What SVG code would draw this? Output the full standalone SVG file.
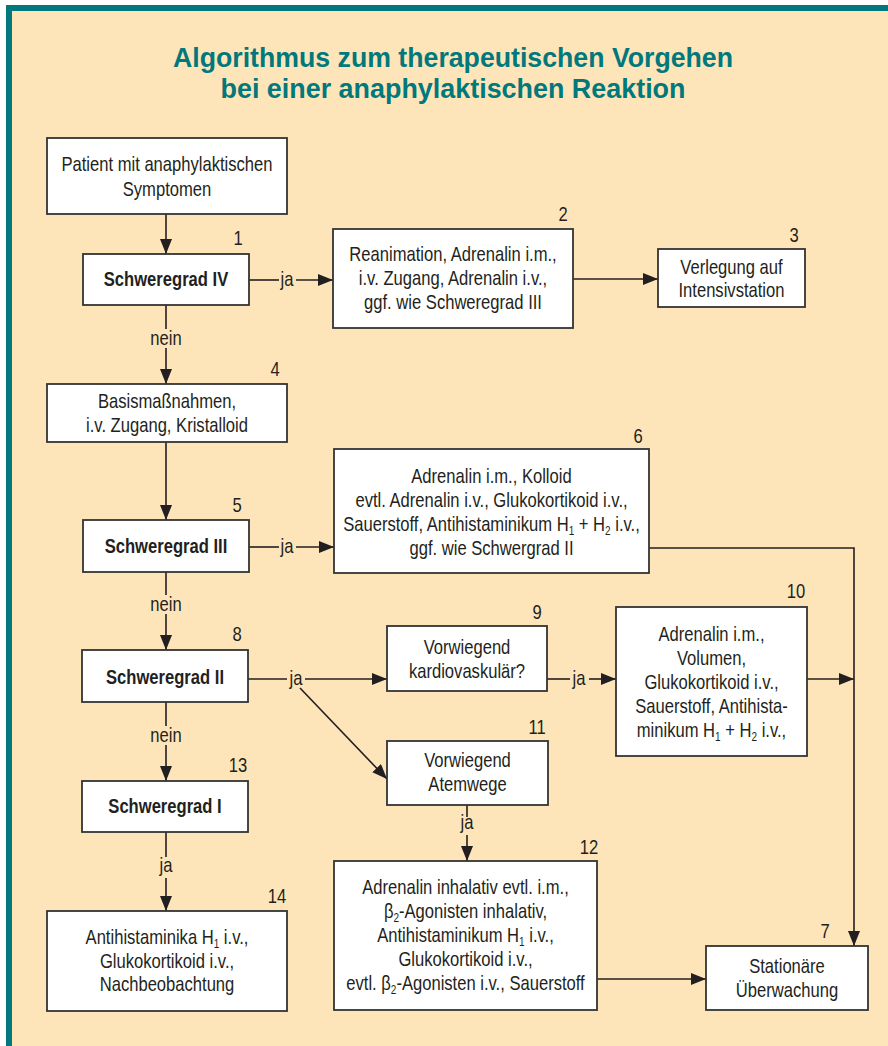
<svg xmlns="http://www.w3.org/2000/svg" width="888" height="1046" viewBox="0 0 888 1046">
<defs>
<marker id="ah" markerUnits="userSpaceOnUse" markerWidth="16" markerHeight="13" refX="15" refY="6" orient="auto">
<path d="M0,0 L15,6 L0,12 z" fill="#231f20"/>
</marker>
<style>
.box{fill:#ffffff;stroke:#333333;stroke-width:1.8}
.t{font-family:"Liberation Sans",Arial,sans-serif;font-size:20px;fill:#231f20;text-anchor:middle}
.b{font-weight:bold}
.s{font-size:12px}
.c{stroke:#231f20;stroke-width:1.6;fill:none}
.ca{stroke:#231f20;stroke-width:1.6;fill:none;marker-end:url(#ah)}
.title{font-family:"Liberation Sans",Arial,sans-serif;font-size:27px;font-weight:bold;fill:#00787c;text-anchor:middle}
</style>
</defs>
<rect x="0" y="0" width="888" height="1046" fill="#ffffff"/>
<rect x="6" y="5" width="882" height="1041" fill="#fee5b9"/>
<rect x="6" y="5" width="882" height="6" fill="#00787c"/>
<rect x="6" y="5" width="6" height="1041" fill="#00787c"/>

<g id="title">
<text class="title" x="453" y="67" textLength="560" lengthAdjust="spacingAndGlyphs">Algorithmus zum therapeutischen Vorgehen</text>
<text class="title" x="453" y="97.5" textLength="465" lengthAdjust="spacingAndGlyphs">bei einer anaphylaktischen Reaktion</text>
</g>

<g id="connectors">
<line class="ca" x1="166" y1="214" x2="166" y2="254"/>
<line class="c" x1="249" y1="280" x2="279" y2="280"/>
<line class="ca" x1="296" y1="280" x2="333" y2="280"/>
<text class="t" transform="translate(287,286) scale(0.83,1)">ja</text>
<line class="ca" x1="573" y1="279" x2="658" y2="279"/>
<line class="c" x1="166" y1="305" x2="166" y2="329"/>
<text class="t" transform="translate(166,345) scale(0.83,1)">nein</text>
<line class="ca" x1="166" y1="348" x2="166" y2="384"/>
<line class="ca" x1="166" y1="442" x2="166" y2="520"/>
<line class="c" x1="249" y1="547" x2="279" y2="547"/>
<text class="t" transform="translate(287,553) scale(0.83,1)">ja</text>
<line class="ca" x1="296" y1="547" x2="334" y2="547"/>
<polyline class="ca" points="649,548 854,548 854,946"/>
<line class="c" x1="166" y1="572" x2="166" y2="595"/>
<text class="t" transform="translate(166,611) scale(0.83,1)">nein</text>
<line class="ca" x1="166" y1="614" x2="166" y2="650"/>
<line class="c" x1="248" y1="679" x2="287" y2="679"/>
<text class="t" transform="translate(296,685) scale(0.83,1)">ja</text>
<line class="ca" x1="305" y1="679" x2="387" y2="679"/>
<line class="ca" x1="300" y1="688" x2="387" y2="779"/>
<line class="c" x1="547" y1="679" x2="570" y2="679"/>
<text class="t" transform="translate(579,685) scale(0.83,1)">ja</text>
<line class="ca" x1="589" y1="679" x2="616" y2="679"/>
<line class="ca" x1="807" y1="679" x2="854" y2="679"/>
<line class="c" x1="166" y1="702" x2="166" y2="726"/>
<text class="t" transform="translate(166,742) scale(0.83,1)">nein</text>
<line class="ca" x1="166" y1="745" x2="166" y2="781"/>
<line class="c" x1="166" y1="832" x2="166" y2="857"/>
<text class="t" transform="translate(166,872) scale(0.83,1)">ja</text>
<line class="ca" x1="166" y1="878" x2="166" y2="911"/>
<line class="c" x1="467" y1="805" x2="467" y2="817"/>
<text class="t" transform="translate(467,829) scale(0.83,1)">ja</text>
<line class="ca" x1="467" y1="835" x2="467" y2="861"/>
<line class="ca" x1="597" y1="979" x2="706" y2="979"/>
</g>

<g id="start">
<rect class="box" x="47" y="138" width="240" height="76"/>
<text class="t" transform="translate(167,171) scale(0.83,1)">Patient mit anaphylaktischen</text>
<text class="t" transform="translate(167,196) scale(0.83,1)">Symptomen</text>
</g>

<g id="n1">
<rect class="box" x="83" y="254" width="166" height="51"/>
<text class="t b" transform="translate(166,286) scale(0.83,1)">Schweregrad IV</text>
<text class="t" transform="translate(238,245) scale(0.83,1)">1</text>
</g>

<g id="n2">
<rect class="box" x="333" y="229" width="240" height="99"/>
<text class="t" transform="translate(453,261) scale(0.83,1)">Reanimation, Adrenalin i.m.,</text>
<text class="t" transform="translate(453,285) scale(0.83,1)">i.v. Zugang, Adrenalin i.v.,</text>
<text class="t" transform="translate(453,309) scale(0.83,1)">ggf. wie Schweregrad III</text>
<text class="t" transform="translate(563,221) scale(0.83,1)">2</text>
</g>

<g id="n3">
<rect class="box" x="658" y="249" width="147" height="58"/>
<text class="t" transform="translate(731.5,274) scale(0.83,1)">Verlegung auf</text>
<text class="t" transform="translate(731.5,297) scale(0.83,1)">Intensivstation</text>
<text class="t" transform="translate(794,242) scale(0.83,1)">3</text>
</g>

<g id="n4">
<rect class="box" x="47" y="384" width="240" height="58"/>
<text class="t" transform="translate(167,408) scale(0.83,1)">Basismaßnahmen,</text>
<text class="t" transform="translate(167,432) scale(0.83,1)">i.v. Zugang, Kristalloid</text>
<text class="t" transform="translate(275,376) scale(0.83,1)">4</text>
</g>

<g id="n5">
<rect class="box" x="83" y="520" width="166" height="52"/>
<text class="t b" transform="translate(166,553) scale(0.83,1)">Schweregrad III</text>
<text class="t" transform="translate(237,512) scale(0.83,1)">5</text>
</g>

<g id="n6">
<rect class="box" x="334" y="449" width="315" height="124"/>
<text class="t" transform="translate(491.5,483) scale(0.83,1)">Adrenalin i.m., Kolloid</text>
<text class="t" transform="translate(491.5,507) scale(0.83,1)">evtl. Adrenalin i.v., Glukokortikoid i.v.,</text>
<text class="t" transform="translate(491.5,531) scale(0.83,1)">Sauerstoff, Antihistaminikum H<tspan class="s" dy="4">1</tspan><tspan dy="-4"> + H</tspan><tspan class="s" dy="4">2</tspan><tspan dy="-4"> i.v.,</tspan></text>
<text class="t" transform="translate(491.5,555) scale(0.83,1)">ggf. wie Schwergrad II</text>
<text class="t" transform="translate(638,443) scale(0.83,1)">6</text>
</g>

<g id="n7">
<rect class="box" x="706" y="946" width="162" height="64"/>
<text class="t" transform="translate(787,973) scale(0.83,1)">Stationäre</text>
<text class="t" transform="translate(787,997) scale(0.83,1)">Überwachung</text>
<text class="t" transform="translate(825,938) scale(0.83,1)">7</text>
</g>

<g id="n8">
<rect class="box" x="82" y="650" width="166" height="52"/>
<text class="t b" transform="translate(165,684) scale(0.83,1)">Schweregrad II</text>
<text class="t" transform="translate(237,641) scale(0.83,1)">8</text>
</g>

<g id="n9">
<rect class="box" x="387" y="626" width="160" height="65"/>
<text class="t" transform="translate(467,654) scale(0.83,1)">Vorwiegend</text>
<text class="t" transform="translate(467,678) scale(0.83,1)">kardiovaskulär?</text>
<text class="t" transform="translate(537,619) scale(0.83,1)">9</text>
</g>

<g id="n10">
<rect class="box" x="616" y="607" width="191" height="149"/>
<text class="t" transform="translate(711.5,641) scale(0.83,1)">Adrenalin i.m.,</text>
<text class="t" transform="translate(711.5,665) scale(0.83,1)">Volumen,</text>
<text class="t" transform="translate(711.5,689) scale(0.83,1)">Glukokortikoid i.v.,</text>
<text class="t" transform="translate(711.5,713) scale(0.83,1)">Sauerstoff, Antihista-</text>
<text class="t" transform="translate(711.5,737) scale(0.83,1)">minikum H<tspan class="s" dy="4">1</tspan><tspan dy="-4"> + H</tspan><tspan class="s" dy="4">2</tspan><tspan dy="-4"> i.v.,</tspan></text>
<text class="t" transform="translate(796,598) scale(0.83,1)">10</text>
</g>

<g id="n11">
<rect class="box" x="387" y="741" width="161" height="64"/>
<text class="t" transform="translate(467.5,767) scale(0.83,1)">Vorwiegend</text>
<text class="t" transform="translate(467.5,791) scale(0.83,1)">Atemwege</text>
<text class="t" transform="translate(537,734) scale(0.83,1)">11</text>
</g>

<g id="n12">
<rect class="box" x="334" y="861" width="263" height="149"/>
<text class="t" transform="translate(465.5,894) scale(0.83,1)">Adrenalin inhalativ evtl. i.m.,</text>
<text class="t" transform="translate(465.5,918) scale(0.83,1)">β<tspan class="s" dy="4">2</tspan><tspan dy="-4">-Agonisten inhalativ,</tspan></text>
<text class="t" transform="translate(465.5,942) scale(0.83,1)">Antihistaminikum H<tspan class="s" dy="4">1</tspan><tspan dy="-4"> i.v.,</tspan></text>
<text class="t" transform="translate(465.5,966) scale(0.83,1)">Glukokortikoid i.v.,</text>
<text class="t" transform="translate(465.5,990) scale(0.83,1)">evtl. β<tspan class="s" dy="4">2</tspan><tspan dy="-4">-Agonisten i.v., Sauerstoff</tspan></text>
<text class="t" transform="translate(589,854) scale(0.83,1)">12</text>
</g>

<g id="n13">
<rect class="box" x="82" y="781" width="166" height="51"/>
<text class="t b" transform="translate(165,813) scale(0.83,1)">Schweregrad I</text>
<text class="t" transform="translate(238,772) scale(0.83,1)">13</text>
</g>

<g id="n14">
<rect class="box" x="47" y="911" width="240" height="100"/>
<text class="t" transform="translate(167,944) scale(0.83,1)">Antihistaminika H<tspan class="s" dy="4">1</tspan><tspan dy="-4"> i.v.,</tspan></text>
<text class="t" transform="translate(167,968) scale(0.83,1)">Glukokortikoid i.v.,</text>
<text class="t" transform="translate(167,991) scale(0.83,1)">Nachbeobachtung</text>
<text class="t" transform="translate(277,903) scale(0.83,1)">14</text>
</g>
</svg>
